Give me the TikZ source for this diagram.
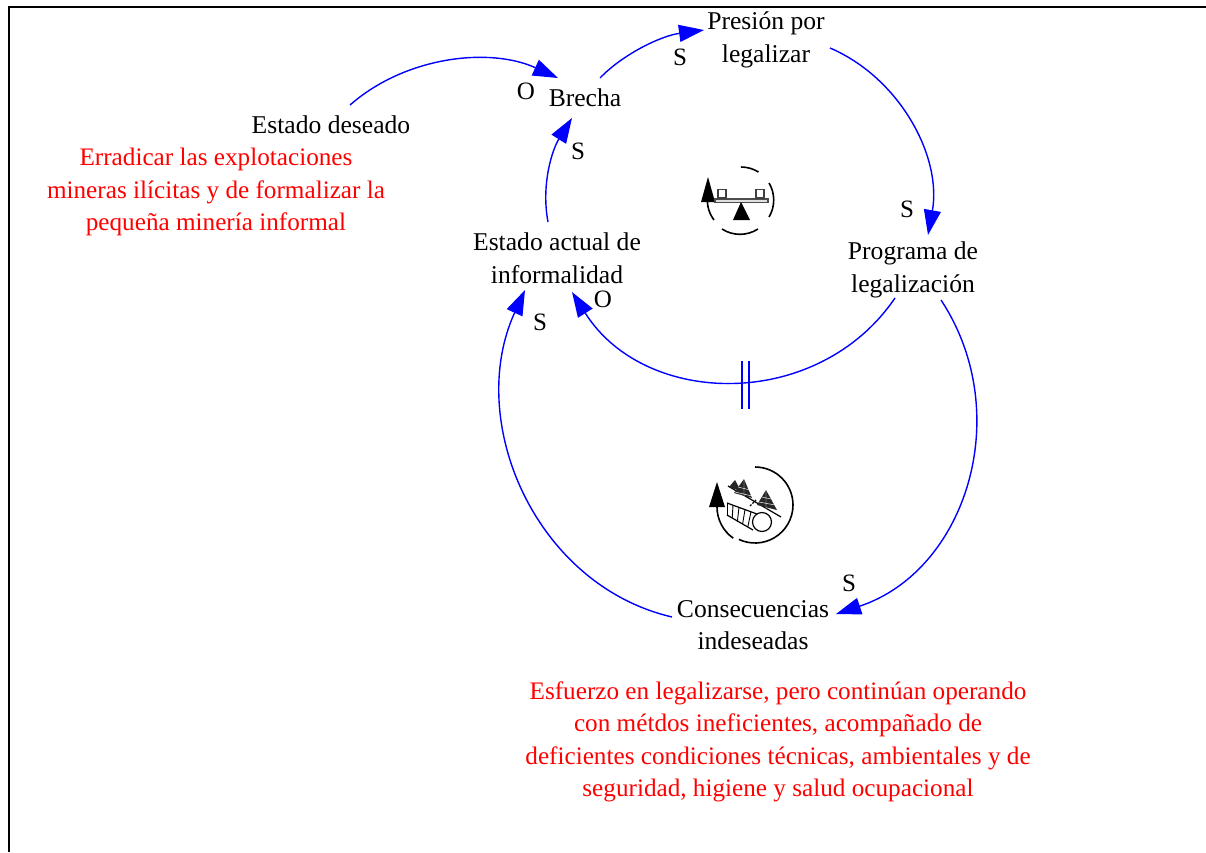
\documentclass[tikz,border=0pt]{standalone}
\usepackage{fontspec}
\setmainfont{Liberation Serif}
\usetikzlibrary{arrows.meta,calc}
\definecolor{linkblue}{RGB}{0,0,255}
\tikzset{
  lbl/.style={inner sep=0pt,align=center,font=\fontsize{25.6}{32.6}\selectfont},
  redlbl/.style={inner sep=0pt,align=center,text=red,font=\fontsize{25.2}{32.4}\selectfont},
  sign/.style={inner sep=0pt,font=\fontsize{25}{30}\selectfont},
  link/.style={draw=linkblue,line width=1.4pt,-{Triangle[length=25pt,width=17pt,fill=linkblue]}},
  tick/.style={draw=linkblue,line width=1.4pt},
  iconline/.style={draw=black,line width=1.6pt},
  thin icon/.style={draw=black,line width=1.2pt}
}
\begin{document}
\begin{tikzpicture}[x=1pt,y=-1pt]
\useasboundingbox (0,0) rectangle (1206,852);
\fill[white] (0,0) rectangle (1206,852);
\draw[line width=2pt] (9,852) -- (9,7) -- (1206,7);

% variables
\node[lbl] (deseado) at (331,125) {Estado deseado};
\node[lbl] (brecha) at (585,98) {Brecha};
\node[lbl] (presion) at (766,40) {Presión por\\legalizar};
\node[lbl] (programa) at (913,270) {Programa de\\legalización};
\node[lbl] (actual) at (557,258) {Estado actual de\\informalidad};
\node[lbl] (conse) at (753,625) {Consecuencias\\indeseadas};
\node[redlbl] (nota1) at (216,192) {Erradicar las explotaciones\\mineras ilícitas y de formalizar la\\pequeña minería informal};
\node[redlbl] (nota2) at (778,742) {Esfuerzo en legalizarse, pero continúan operando\\con métdos ineficientes, acompañado de\\deficientes condiciones técnicas, ambientales y de\\seguridad, higiene y salud ocupacional};

% connectors
\draw[link] ([shift={(19,-20)}]deseado.center) .. controls (406,56) and (490,47) .. ([shift={(-27,-20)}]brecha.center);
\draw[link] ([shift={(15,-20)}]brecha.center) .. controls (622,55) and (660,36) .. ([shift={(-62,-10)}]presion.center);
\draw[link] ([shift={(64,8)}]presion.center) .. controls (900,78) and (942,157) .. ([shift={(15,-35)}]programa.center);
\draw[link] ([shift={(-18,28)}]programa.center) .. controls (818,411) and (645,408) .. ([shift={(15,34)}]actual.center);
\draw[link] ([shift={(28,30)}]programa.center) .. controls (1016,414) and (966,571) .. ([shift={(83,-11)}]conse.center);
\draw[link] ([shift={(-81,-8)}]conse.center) .. controls (535,585) and (465,421) .. ([shift={(-32,32)}]actual.center);
\draw[link] ([shift={(-9,-36)}]actual.center) .. controls (541,185) and (552,150) .. ([shift={(-13,20)}]brecha.center);

% delay mark
\coordinate (delayA) at (742,361);
\coordinate (delayB) at (742,409);
\coordinate (delayC) at (749,361);
\coordinate (delayD) at (749,409);
\draw[tick] (delayA) -- (delayB);
\draw[tick] (delayC) -- (delayD);

% polarity signs
\node[sign] (s1) at (680,57) {S};
\node[sign] (o1) at (526,91) {O};
\node[sign] (s2) at (578,151) {S};
\node[sign] (s3) at (907,209) {S};
\node[sign] (o2) at (603,299) {O};
\node[sign] (s4) at (540,322) {S};
\node[sign] (s5) at (849,583) {S};

% balance icon
\draw[iconline] (741,167) arc[start angle=-90,end angle=-58,radius=33];
\draw[iconline] (769,183) arc[start angle=-31,end angle=31,radius=33];
\draw[iconline] (722,229) arc[start angle=123,end angle=57,radius=33];
\draw[iconline] (714,220) arc[start angle=143,end angle=185,radius=33];
\fill (708,177) -- (715,202) -- (701,202) -- cycle;
\draw[draw=black!70,line width=1.4pt,fill=black!12] (715,199) rectangle (768,202.5);
\draw[draw=black!75,line width=1.4pt,fill=white] (718,189.5) rectangle (726,198);
\draw[draw=black!75,line width=1.4pt,fill=white] (756,189.5) rectangle (764,198);
\fill (741,202) -- (750,220) -- (733,220) -- cycle;

% trees and pipe icon
\draw[iconline] (755,467) arc[start angle=-90,end angle=115,radius=38];
\draw[iconline] (717,507) arc[start angle=-180,end angle=-235,radius=38];
\fill (717,482) -- (725,507) -- (709,507) -- cycle;
\draw[thin icon] (728,486) -- (781,517);
% trees
\fill[black!85] (735,480) -- (741,491) -- (729,487) -- cycle;
\fill[black!85] (744,479) -- (752,498) -- (734,493) -- cycle;
\fill[black!85] (766,490) -- (777,510) -- (757,505) -- cycle;
\draw[white,line width=0.45pt] (738,487) -- (750,490) (735,492) -- (752,496) (744,479) -- (744,497)
  (762,497) -- (771,499) (759,502) -- (775,505) (766,490) -- (766,510);
% pipe
\draw[thin icon] (762,522) circle[radius=9.5];
\draw[thin icon] (727,503) -- (757,514);
\draw[thin icon] (727,515) -- (753,530);
\foreach \t in {0,0.2,0.4,0.6,0.8}
  \draw[draw=black,line width=0.9pt] ($(727,503)!\t!(757,514)$) -- ($(727,515)!\t!(753,530)$);
\draw[thin icon,dash pattern=on 2pt off 1.5pt] (750,506) -- (756,500);
\end{tikzpicture}
\end{document}
